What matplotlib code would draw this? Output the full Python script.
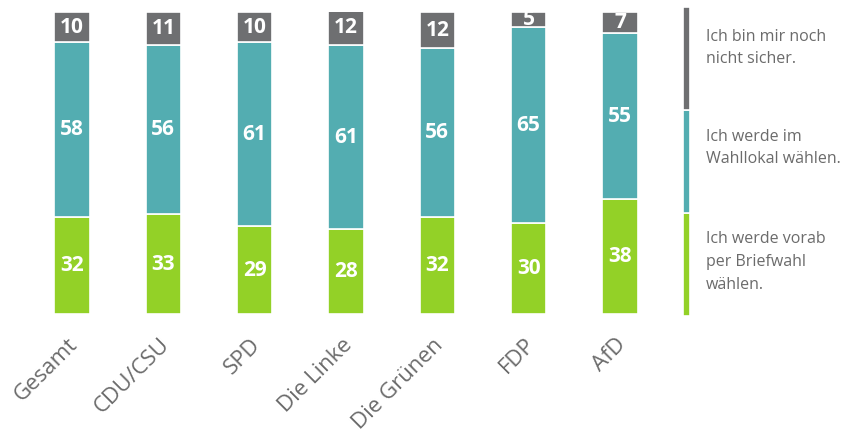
import matplotlib.pyplot as plt
import numpy as np

parteien = ["Gesamt", "CDU/CSU", "SPD", "Die Linke", "Die Grünen", "FDP", "AfD"]
briefwahl = [32, 33, 29, 28, 32, 30, 38]
wahllokal = [58, 56, 61, 61, 56, 65, 55]
unsicher = [10, 11, 10, 12, 12, 5, 7]

legende = ["Ich werde vorab\nper Briefwahl\nwählen.",
           "Ich werde im\nWahllokal wählen.",
           "Ich bin mir noch\nnicht sicher."]

farben = ["#93d127", "#53adb1", "#6e6f71"]
textgrau = "#6b6b6b"

plt.rcParams['font.family'] = ['Open Sans', 'DejaVu Sans']

fig = plt.figure(figsize=(8.44, 4.36), dpi=100)
ax = fig.add_axes([26.35 / 844, 122 / 436, 639.3 / 844, 302 / 436])

x = np.arange(len(parteien))
breite = 0.385
unten = np.zeros(len(parteien))
for werte, farbe in zip([briefwahl, wahllokal, unsicher], farben):
    ax.bar(x, werte, breite, bottom=unten, color=farbe,
           edgecolor="white", linewidth=1.2)
    for xi, b, w in zip(x, unten, werte):
        ax.text(xi, b + w / 2, str(w), ha="center", va="center",
                color="white", fontsize=15, fontweight="bold")
    unten = unten + np.array(werte)

ax.set_xlim(-0.5, 6.5)
ax.set_ylim(0, 100)
for s in ax.spines.values():
    s.set_visible(False)
ax.set_yticks([])
ax.set_xticks(x + 0.03)
ax.set_xticklabels(parteien, rotation=45, ha="right", va="center",
                   rotation_mode="anchor", fontsize=16, color=textgrau)
ax.tick_params(axis="x", length=0, pad=20)

# Legende rechts: schmale senkrechte Balken
lax = fig.add_axes([683 / 844, (436 - 316) / 436, 7 / 844, 309 / 436])
lax.set_xlim(0, 1)
lax.set_ylim(0, 3)
for i, farbe in enumerate(farben):
    lax.bar(0.5, 1, 1, bottom=i, color=farbe, edgecolor="white", linewidth=1.2)
lax.axis("off")

text_y = [262, 148, 48]
for txt, ty in zip(legende, text_y):
    fig.text(706 / 844, 1 - ty / 436, txt, ha="left", va="center",
             fontsize=11.5, color=textgrau, linespacing=1.55)

fig.savefig("out.png", dpi=100)
